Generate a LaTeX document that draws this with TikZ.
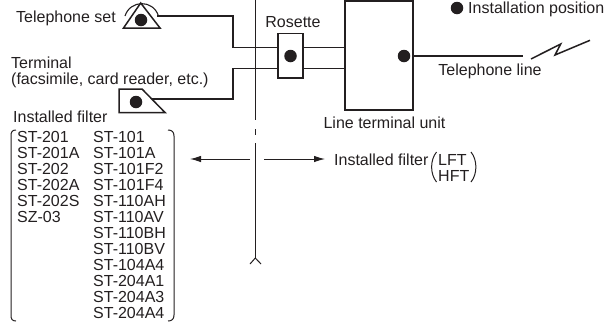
\documentclass[tikz,border=0pt]{standalone}
\usepackage{fontspec}
\setmainfont{Liberation Sans}
\usetikzlibrary{arrows.meta}
\definecolor{ink}{HTML}{231F20}
\tikzset{
  lbl/.style={font=\fontsize{16}{16}\selectfont, text=ink, inner sep=0pt},
  lbll/.style={lbl, anchor=west},
  box/.style={draw=ink, line width=1.6pt, inner sep=0pt},
  posdot/.style={circle, fill=ink, inner sep=0pt, minimum size=12.5pt},
  wire/.style={draw=ink, line width=1.5pt},
  thinw/.style={draw=ink, line width=1pt},
  filt/.style={-{Latex[length=11pt,width=6.5pt]}, draw=ink, line width=1pt},
}
\begin{document}
\begin{tikzpicture}[x=1pt, y=-1pt]
  \useasboundingbox (0,0) rectangle (604,322);
  % boxes
  \node[box, minimum width=25pt, minimum height=44.5pt] (rosette) at (290.5,55.7) {};
  \node[box, minimum width=68.5pt, minimum height=109.5pt] (ltu) at (379,55.5) {};
  \node[posdot] (dotrosette) at (290.5,56) {};
  \node[posdot] (dotltu) at (404,56) {};
  \node[posdot] (dotlegend) at (457,8) {};
  \node[lbl] (rosettelbl) at (293,22.5) {Rosette};
  \node[lbl] (ltulbl) at (384.5,122.5) {Line terminal unit};
  \node[lbll] (legendlbl) at (468,9.5) {Installation position};
  % telephone set
  \coordinate (setA) at (140.7,3); \coordinate (setB) at (123.5,28); \coordinate (setC) at (160,28);
  \draw[wire] (setA) -- (setB) -- (setC) -- cycle;
  \draw[thinw, line width=1.1pt] (125,16) .. controls (130,0) and (153,-1) .. (158.5,16);
  \node[posdot] (dotset) at (141,20) {};
  \node[lbll] (setlbl) at (16,18.5) {Telephone set};
  % terminal
  \coordinate (termA) at (119,89); \coordinate (termB) at (142,89);
  \coordinate (termC) at (165,112.5); \coordinate (termD) at (119,112.5);
  \draw[wire] (termA) -- (termB) -- (termC) -- (termD) -- cycle;
  \node[posdot] (dotterm) at (136,102) {};
  \node[lbll] (termlbl) at (11,63) {Terminal};
  \node[lbll] (termlblb) at (11,80.5) {(facsimile, card reader, etc.)};
  % wiring
  \coordinate (setport) at (157,16); \coordinate (termport) at (152,99);
  \coordinate (bendA) at (233,16); \coordinate (bendB) at (233,47.5);
  \coordinate (bendC) at (233,99); \coordinate (bendD) at (233,68.5);
  \draw[wire] (setport) -- (bendA) -- (bendB) -- (rosette.west |- bendB);
  \draw[wire] (termport) -- (bendC) -- (bendD) -- (rosette.west |- bendD);
  \draw[thinw] (rosette.east |- bendB) -- (ltu.west |- bendB);
  \draw[thinw] (rosette.east |- bendD) -- (ltu.west |- bendD);
  \coordinate (lineend) at (523,56);
  \draw[wire] (ltu.east |- lineend) -- (lineend);
  \draw[wire] (531,59) -- (560.7,44) -- (555,55) -- (590,40.3);
  \node[lbl] (linelbl) at (490,71) {Telephone line};
  % cut line
  \coordinate (cutT) at (255.3,0); \coordinate (cutB) at (255.3,120);
  \coordinate (cutC) at (255.3,129); \coordinate (cutD) at (255.3,135);
  \coordinate (cutE) at (255.3,143); \coordinate (cutF) at (255.3,258);
  \draw[thinw] (cutT) -- (cutB);
  \draw[thinw] (cutC) -- (cutD);
  \draw[thinw] (cutE) -- (cutF);
  \draw[thinw] (250,264) -- (cutF) -- (261,264);
  \coordinate (arrL) at (250,159); \coordinate (arrR) at (264,159);
  \draw[filt] (arrL) -- (190,159);
  \draw[filt] (arrR) -- (325,159);
  % filter list
  \node[lbll] (filterlbl) at (13,117) {Installed filter};
  \draw[thinw] (16,130) .. controls (12,130) and (11,132) .. (11,136) -- (11,315)
    .. controls (11,319) and (12,321) .. (16,321);
  \draw[thinw] (168,130) .. controls (172,130) and (174,132) .. (174,136) -- (174,315)
    .. controls (174,319) and (172,321) .. (168,321);
  \foreach \name [count=\i from 0] in {ST-201,ST-201A,ST-202,ST-202A,ST-202S,SZ-03}
    \node[lbll] (lefta\i) at (17,137+16*\i) {\name};
  \foreach \name [count=\i from 0] in {ST-101,ST-101A,ST-101F2,ST-101F4,ST-110AH,ST-110AV,
      ST-110BH,ST-110BV,ST-104A4,ST-204A1,ST-204A3,ST-204A4}
    \node[lbll] (leftb\i) at (93,137+16*\i) {\name};
  % right filter
  \node[lbll] (rightlbl) at (334,160) {Installed filter};
  \node[lbll] (lft) at (438,160) {LFT};
  \node[lbll] (hft) at (438,176) {HFT};
  \draw[thinw] (436.5,152) .. controls (430,160) and (430,174) .. (436.5,182);
  \draw[thinw] (471,152) .. controls (477.5,160) and (477.5,174) .. (471,182);
\end{tikzpicture}
\end{document}
